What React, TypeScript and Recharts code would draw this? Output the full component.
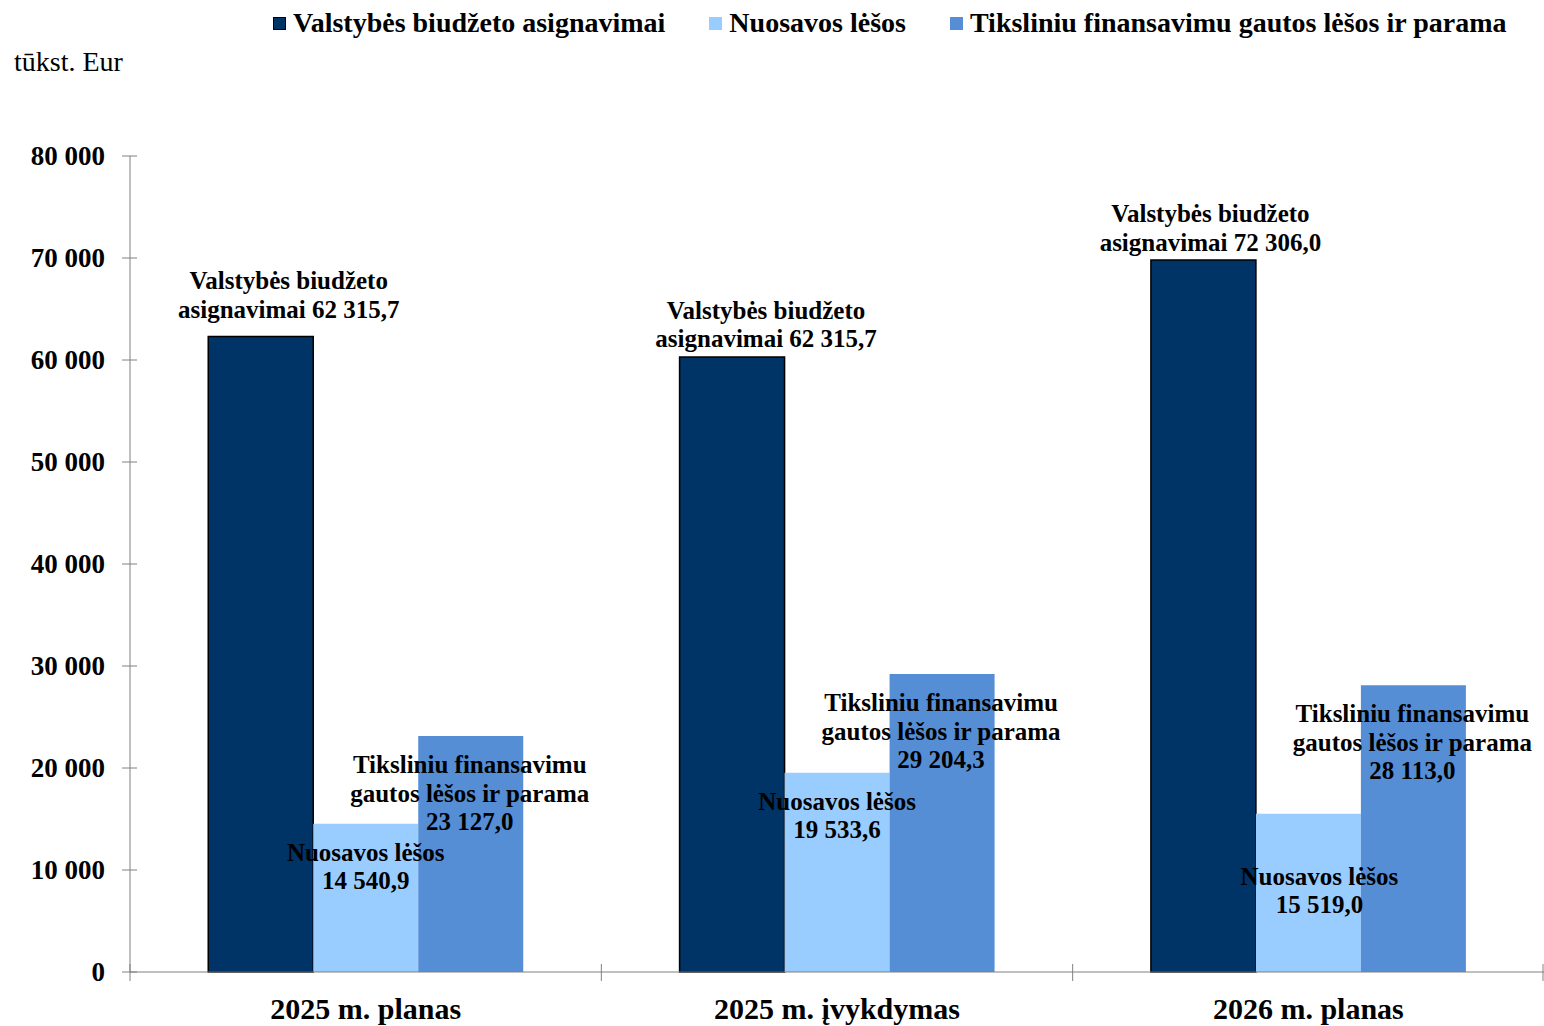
import React from 'react'
import { BarChart, Bar, XAxis, YAxis, LabelList } from 'recharts'

const categories = ['2025 m. planas', '2025 m. įvykdymas', '2026 m. planas']
const valstybes = [62315.7, 60300, 69800]
const nuosavos = [14540.9, 19533.6, 15519.0]
const tiksliniu = [23127.0, 29204.3, 28113.0]
// printed values above the dark bars (as written on the original)
const valstybesText = ['62 315,7', '62 315,7', '72 306,0']
const yTicks = [0, 10000, 20000, 30000, 40000, 50000, 60000, 70000, 80000]
const seriesNames = ['Valstybės biudžeto asignavimai', 'Nuosavos lėšos', 'Tiksliniu finansavimu gautos lėšos ir parama']

const colors = ['#003366', '#99CCFF', '#558ED5']
const font = '"Liberation Serif", "Times New Roman", serif'

const data = categories.map((c, i) => ({
  cat: c,
  i,
  v: valstybes[i],
  n: nuosavos[i],
  t: tiksliniu[i],
}))

const fmt = (v: number) => {
  const [a, b] = v.toFixed(1).split('.')
  return a.replace(/\B(?=(\d{3})+(?!\d))/g, ' ') + ',' + b
}

// label placement tweaks per category
const darkDx = [28, 34, 7]
const darkDy = [-56, -47, -47]
const lightDx = [0, 0, 11]
const lightDy = [28, 28, 62]
const blueDy = [28, 28, 28]

const makeLabel = (lines: (i: number) => string[], dx: number[], dy: number[]) => (props: any) => {
  const { x, y, width, value } = props
  const i = Number(value)
  const cx = Number(x) + Number(width) / 2 + dx[i]
  const y0 = Number(y) + dy[i]
  return (
    <text fontFamily={font} fontWeight="bold" fontSize={25} fill="#000" textAnchor="middle" dominantBaseline="central">
      {lines(i).map((l, k) => (
        <tspan key={k} x={cx} y={y0 + k * 28.5}>{l}</tspan>
      ))}
    </text>
  )
}

const darkLabel = makeLabel(i => ['Valstybės biudžeto', 'asignavimai ' + valstybesText[i]], darkDx, darkDy)
const lightLabel = makeLabel(i => ['Nuosavos lėšos', fmt(nuosavos[i])], lightDx, lightDy)
const blueLabel = makeLabel(i => ['Tiksliniu finansavimu', 'gautos lėšos ir parama', fmt(tiksliniu[i])], [-1, -1, -1], blueDy)

const YTick = (props: any) => {
  const { x, y, payload } = props
  return (
    <g>
      <line x1={x - 8} x2={x + 7} y1={y} y2={y} stroke="#808080" />
      <text x={x - 25} y={y} textAnchor="end" dominantBaseline="central" fontFamily={font} fontWeight="bold" fontSize={27} fill="#000">
        {payload.value === 0 ? '0' : String(payload.value).replace(/\B(?=(\d{3})+(?!\d))/g, ' ')}
      </text>
    </g>
  )
}

const XTick = (props: any) => {
  const { x, y, payload, index, width } = props
  const half = width ? width / categories.length / 2 : (payload.offset ?? 235.7)
  return (
    <g>
      <line x1={x - half} x2={x - half} y1={y - 8} y2={y + 9} stroke="#808080" />
      {index === categories.length - 1 && (
        <line x1={x + half - 1} x2={x + half - 1} y1={y - 8} y2={y + 9} stroke="#808080" />
      )}
      <text x={x} y={y + 36} textAnchor="middle" dominantBaseline="central" fontFamily={font} fontWeight="bold" fontSize={30} fill="#000">
        {payload.value}
      </text>
    </g>
  )
}

const LegendRow = () => (
  <div style={{ position: 'absolute', left: 273, top: 4, height: 38, display: 'flex', alignItems: 'center', fontFamily: font, fontWeight: 'bold', fontSize: 28, whiteSpace: 'nowrap' }}>
    {seriesNames.map((s, i) => (
      <div key={s} style={{ display: 'flex', alignItems: 'center', marginRight: 44 }}>
        <span style={{ display: 'inline-block', width: 13, height: 13, background: colors[i], border: i === 0 ? '1.5px solid #000' : 'none', boxSizing: 'border-box', marginRight: 7 }} />
        <span>{s}</span>
      </div>
    ))}
  </div>
)

export default function App() {
  return (
    <div style={{ position: 'absolute', left: 0, top: 0, width: 1544, height: 1026, background: '#fff' }}>
      <LegendRow />
      <div style={{ position: 'absolute', left: 14, top: 45, lineHeight: '34px', fontFamily: font, fontSize: 28 }}>tūkst. Eur</div>
      <BarChart
        width={1544}
        height={1026}
        data={data}
        margin={{ top: 156, right: 0, bottom: 0, left: 0 }}
        barCategoryGap="16.6%"
        barGap={0}
      >
        <XAxis dataKey="cat" height={54} stroke="#808080" tickLine={false} tickSize={0} tickMargin={0} tick={<XTick />} interval={0} />
        <XAxis xAxisId="lbl" dataKey="cat" hide />
        <YAxis
          width={130}
          domain={[0, 80000]}
          ticks={yTicks}
          stroke="#808080"
          tickLine={false}
          tickSize={0}
          tickMargin={0}
          tick={<YTick />}
          interval={0}
        />
        <Bar dataKey="v" fill={colors[0]} stroke="#000" strokeWidth={1.5} isAnimationActive={false} />
        <Bar dataKey="n" fill={colors[1]} isAnimationActive={false} />
        <Bar dataKey="t" fill={colors[2]} isAnimationActive={false} />
        {/* transparent copies on a hidden axis so the labels sit above every bar */}
        <Bar xAxisId="lbl" dataKey="v" fill="none" isAnimationActive={false}>
          <LabelList dataKey="i" content={darkLabel} />
        </Bar>
        <Bar xAxisId="lbl" dataKey="n" fill="none" isAnimationActive={false}>
          <LabelList dataKey="i" content={lightLabel} />
        </Bar>
        <Bar xAxisId="lbl" dataKey="t" fill="none" isAnimationActive={false}>
          <LabelList dataKey="i" content={blueLabel} />
        </Bar>
      </BarChart>
    </div>
  )
}
